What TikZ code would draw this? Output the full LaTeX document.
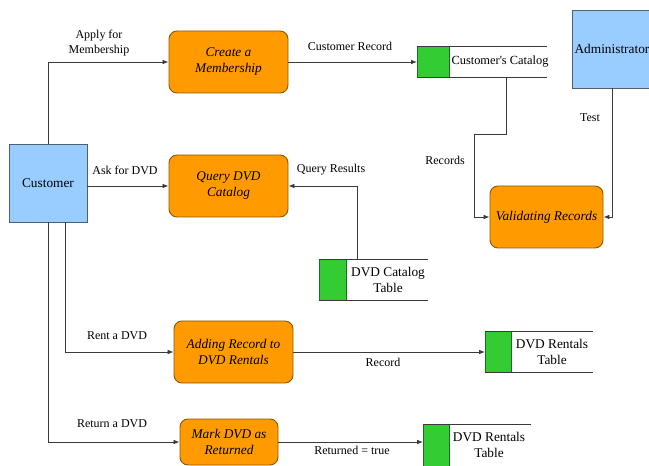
\documentclass[tikz,border=0pt]{standalone}
\usepackage{fontspec}
\setmainfont{Liberation Serif}
\newfontfamily\diagfont{Liberation Serif}
\usetikzlibrary{arrows.meta,calc}

\definecolor{procfill}{HTML}{FF9A00}
\definecolor{procline}{HTML}{8C5A00}
\definecolor{entfill}{HTML}{99CCFF}
\definecolor{entline}{HTML}{4F5F70}
\definecolor{storefill}{HTML}{33CC33}
\definecolor{storeline}{HTML}{1E6E1E}
\definecolor{wire}{HTML}{3A3A3A}

\tikzset{
  every node/.style={font=\diagfont},
  process/.style={draw=procline, fill=procfill, rounded corners=6pt, line width=0.7pt,
    align=center, font=\diagfont\itshape\fontsize{10}{12}\selectfont, inner sep=2pt},
  entity/.style={draw=entline, fill=entfill, line width=0.7pt,
    font=\diagfont\fontsize{10}{12}\selectfont, inner sep=0pt},
  storebox/.style={draw=none, inner sep=0pt, outer sep=0pt},
  storetab/.style={draw=storeline, fill=storefill, line width=0.6pt, inner sep=0pt, outer sep=0pt},
  storetext/.style={align=center, font=\diagfont\fontsize{10}{12}\selectfont, inner sep=0pt},
  flowlabel/.style={align=center, font=\diagfont\fontsize{9}{11}\selectfont, inner sep=0pt},
  arr/.style={draw=wire, line width=0.6pt, -{Latex[length=4.5pt,width=3.5pt]}},
  edge/.style={draw=wire, line width=0.6pt},
}

% data store: name, centre x, centre y, total width, tab width, height, text, text x
\newcommand\datastore[8]{%
  \node[storebox, minimum width=#4*0.75pt, minimum height=#6*0.75pt] (#1) at (#2,#3) {};
  \node[storetab, anchor=west, minimum width=#5*0.75pt, minimum height=#6*0.75pt] (#1tab) at (#1.west) {};
  \draw[edge] (#1.north west) -- (#1.north east);
  \draw[edge] (#1.south west) -- (#1.south east);
  \node[storetext] (#1text) at (#8,#3) {#7};
}

\begin{document}
\begin{tikzpicture}[x=0.75pt, y=-0.75pt]
  \clip (0,0) rectangle (649,466);
  \fill[white] (0,0) rectangle (649,466);

  % external entities
  \node[entity, minimum width=58.5pt, minimum height=58.5pt] (cust) at (48,183) {Customer};
  \node[entity, minimum width=60pt, minimum height=58.5pt] (admin) at (612,49) {Administrator};

  % processes
  \node[process, minimum width=89.25pt, minimum height=46.5pt] (create) at (228.5,62) {Create a\\Membership};
  \node[process, minimum width=89.25pt, minimum height=46.5pt] (query) at (228.5,186) {Query DVD\\Catalog};
  \node[process, minimum width=84.75pt, minimum height=46.5pt] (valid) at (546.5,217) {Validating Records};
  \node[process, minimum width=89.25pt, minimum height=46.5pt] (adding) at (233.5,352) {Adding Record to\\DVD Rentals};
  \node[process, minimum width=73.5pt, minimum height=34.5pt] (mark) at (229,442) {Mark DVD as\\Returned};

  % data stores
  \datastore{cc}{482}{61.5}{130}{32}{31}{\fontsize{9.3}{11}\selectfont Customer's Catalog}{500}
  \datastore{dcat}{373.5}{279.5}{109}{27}{41}{DVD Catalog\\Table}{388}
  \datastore{rone}{539}{351.5}{108}{26}{41}{DVD Rentals\\Table}{552}
  \datastore{rtwo}{477}{445}{108}{26}{42}{DVD Rentals\\Table}{489}

  % flows from the customer
  \draw[arr] (cust.north) |- (create.west);
  \draw[arr] (cust.east |- query.west) -- (query.west);
  \coordinate (custrent) at ($(cust.south)+(17,0)$);
  \draw[arr] (custrent) |- (adding.west);
  \draw[arr] (cust.south) |- (mark.west);

  % flows into the data stores
  \draw[arr] (create.east) -- (create.east -| cc.west);
  \draw[arr] (adding.east) -- (adding.east -| rone.west);
  \draw[arr] (mark.east) -- (mark.east -| rtwo.west);

  % query results back to the query process
  \coordinate (dcattop) at ($(dcat.north west)+(38,0)$);
  \draw[arr] (dcattop) |- (query.east);

  % records and test into validation
  \coordinate (ccout) at ($(cc.south west)+(89,0)$);
  \coordinate (recbend) at (474,134);
  \draw[arr] (ccout) |- (recbend) |- (valid.west);
  \draw[arr] (admin.south) |- (valid.east);

  % flow labels
  \node[flowlabel] (lapply) at (99,43) {Apply for\\Membership};
  \node[flowlabel] (lask) at (125,170) {Ask for DVD};
  \node[flowlabel] (lcrec) at (350,46) {Customer Record};
  \node[flowlabel] (lqres) at (331,170) {Query Results};
  \node[flowlabel] (lrecs) at (445,160) {Records};
  \node[flowlabel] (ltest) at (590,118) {Test};
  \node[flowlabel] (lrent) at (117,336) {Rent a DVD};
  \node[flowlabel] (lrecord) at (383,362) {Record};
  \node[flowlabel] (lreturn) at (112,424) {Return a DVD};
  \node[flowlabel] (lreturned) at (352,450) {Returned = true};
\end{tikzpicture}
\end{document}
